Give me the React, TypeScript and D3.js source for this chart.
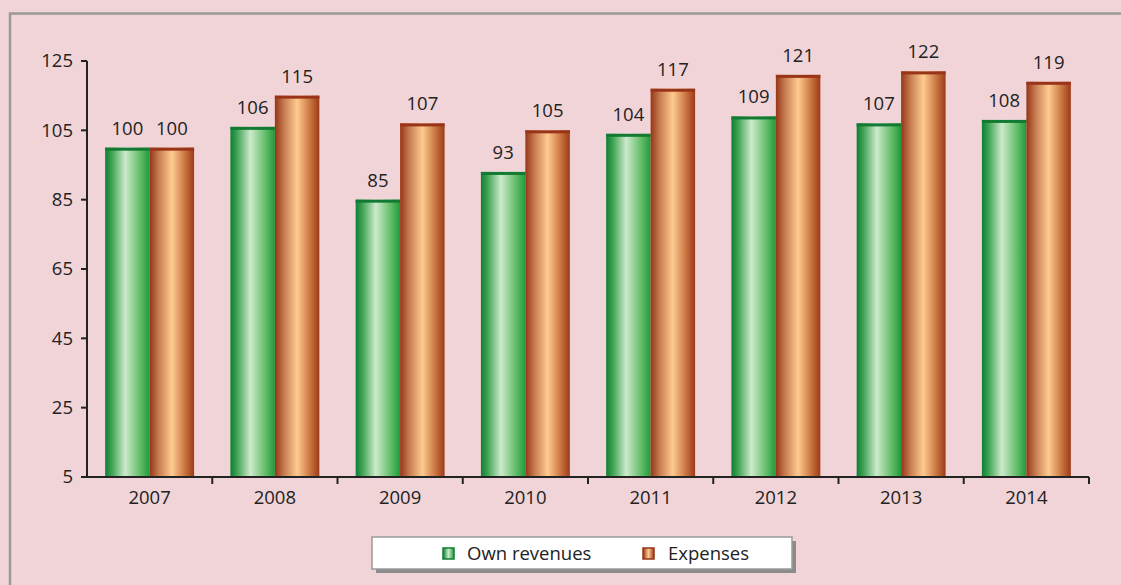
import React from 'react';
import * as d3 from 'd3';

const years = ['2007', '2008', '2009', '2010', '2011', '2012', '2013', '2014'];
const ownRevenues = [100, 106, 85, 93, 104, 109, 107, 108];
const expenses = [100, 115, 107, 105, 117, 121, 122, 119];
const yTicks = [5, 25, 45, 65, 85, 105, 125];

const W = 1121;
const H = 585;
const margin = { left: 87, right: 32, top: 61, bottom: 108 };
const font = '"Open Sans", "DejaVu Sans", sans-serif';
const fs = 18.5;

export default function App() {
  const x = d3.scaleBand<string>()
    .domain(years)
    .range([margin.left, W - margin.right])
    .padding(0);
  const y = d3.scaleLinear()
    .domain([5, 125])
    .range([H - margin.bottom, margin.top]);

  const bw = x.bandwidth() * 0.355;
  const gap = (x.bandwidth() - 2 * bw) / 2;
  const base = y(5);

  const series = [
    { name: 'Own revenues', values: ownRevenues, grad: 'gGreen', top: '#127a33' },
    { name: 'Expenses', values: expenses, grad: 'gOrange', top: '#9a3418' },
  ];

  return (
    <svg width={W} height={H} style={{ position: 'absolute', left: 0, top: 0 }}>
      <defs>
        <linearGradient id="gGreen" x1="0" x2="1" y1="0" y2="0">
          <stop offset="0" stopColor="#0e7f35" />
          <stop offset="0.15" stopColor="#3fa353" />
          <stop offset="0.45" stopColor="#cdeacb" />
          <stop offset="0.8" stopColor="#5fbb65" />
          <stop offset="1" stopColor="#1f9a3c" />
        </linearGradient>
        <linearGradient id="gOrange" x1="0" x2="1" y1="0" y2="0">
          <stop offset="0" stopColor="#963517" />
          <stop offset="0.2" stopColor="#c57a4f" />
          <stop offset="0.5" stopColor="#ffcb90" />
          <stop offset="0.8" stopColor="#c8733f" />
          <stop offset="1" stopColor="#9c3a19" />
        </linearGradient>
        <linearGradient id="lgGreen" x1="0" x2="1">
          <stop offset="0" stopColor="#0e7f35" />
          <stop offset="0.5" stopColor="#cdeacb" />
          <stop offset="1" stopColor="#1f9a3c" />
        </linearGradient>
        <linearGradient id="lgOrange" x1="0" x2="1">
          <stop offset="0" stopColor="#963517" />
          <stop offset="0.5" stopColor="#ffcb90" />
          <stop offset="1" stopColor="#9c3a19" />
        </linearGradient>
      </defs>
      <rect x={0} y={0} width={W} height={H} fill="#f0d4d7" />
      <path d={`M10,${H} V13.5 H${W}`} fill="none" stroke="#9a9a9a" strokeWidth={2.5} />

      {series.map((s, si) => (
        <g key={s.name}>
          {years.map((yr, i) => {
            const x0 = (x(yr) as number) + gap + si * bw;
            const yt = y(s.values[i]);
            return (
              <g key={yr}>
                <rect x={x0} y={yt} width={bw} height={base - yt} fill={`url(#${s.grad})`} />
                <rect x={x0} y={yt} width={bw} height={3} fill={s.top} />
                <text x={x0 + bw / 2} y={yt - 13} textAnchor="middle" fontFamily={font}
                  fontSize={fs} fill="#222">{s.values[i]}</text>
              </g>
            );
          })}
        </g>
      ))}

      {/* y axis */}
      <line x1={margin.left} x2={margin.left} y1={y(125)} y2={base} stroke="#222" strokeWidth={2} />
      {yTicks.map(t => (
        <g key={t}>
          <line x1={margin.left - 6} x2={margin.left} y1={y(t)} y2={y(t)} stroke="#222" strokeWidth={2} />
          <text x={margin.left - 14} y={y(t)} dy="0.35em" textAnchor="end" fontFamily={font}
            fontSize={fs} fill="#222">{t}</text>
        </g>
      ))}

      {/* x axis */}
      <line x1={margin.left} x2={W - margin.right} y1={base} y2={base} stroke="#222" strokeWidth={2} />
      {years.map(yr => (
        <g key={yr}>
          <line x1={(x(yr) as number) + x.bandwidth()} x2={(x(yr) as number) + x.bandwidth()}
            y1={base} y2={base + 7} stroke="#222" strokeWidth={2} />
          <text x={(x(yr) as number) + x.bandwidth() / 2} y={base + 27} textAnchor="middle"
            fontFamily={font} fontSize={fs} fill="#222">{yr}</text>
        </g>
      ))}

      {/* legend */}
      <rect x={376} y={541} width={420} height={32} fill="#8c8c8c" />
      <rect x={372} y={537} width={420} height={32} fill="#fff" stroke="#9a9a9a" strokeWidth={1.5} />
      <rect x={443} y={548} width={11} height={11} fill="url(#lgGreen)" stroke="#0e7f35" strokeWidth={1.5} />
      <text x={467} y={553.5} dy="0.35em" fontFamily={font} fontSize={fs} fill="#222">Own revenues</text>
      <rect x={643} y={548} width={11} height={11} fill="url(#lgOrange)" stroke="#963517" strokeWidth={1.5} />
      <text x={668} y={553.5} dy="0.35em" fontFamily={font} fontSize={fs} fill="#222">Expenses</text>
    </svg>
  );
}
